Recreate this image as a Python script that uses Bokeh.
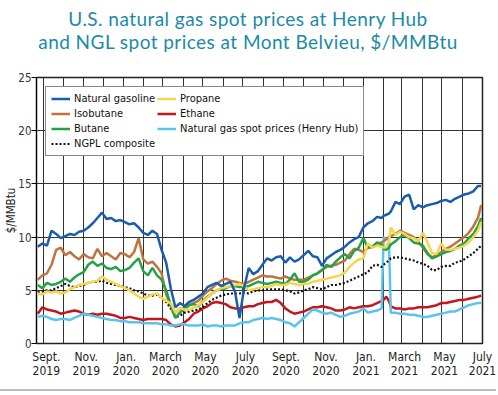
import pandas as pd
from bokeh.plotting import figure
from bokeh.layouts import column
from bokeh.models import (ColumnDataSource, Range1d, FixedTicker, Legend, LegendItem, Div)
from bokeh.embed import file_html
from bokeh.resources import INLINE

# ---------------- data ----------------
weekly = list(pd.date_range("2019-08-23", "2021-06-25", freq="7D"))
extra = [pd.Timestamp("2021-02-01"), pd.Timestamp("2021-02-09"), pd.Timestamp("2021-06-30")]
dates = sorted(weekly + extra)

natural_gasoline = [
    9.1, 9.4, 9.2, 10.6, 10.3, 9.9, 10.1, 10.3, 10.2, 10.5,
    10.6, 10.9, 11.3, 11.8, 12.3, 11.7, 11.8, 11.5, 11.6, 11.4,
    11.2, 11.3, 10.9, 10.4, 10.2, 10.6, 10.3, 8.8, 7.6, 5.2,
    3.4, 3.8, 3.5, 3.9, 4.1, 4.4, 4.7, 5.3, 5.5, 5.7,
    5.4, 5.6, 5.8, 4.9, 2.4, 5.2, 7.1, 6.5, 6.8, 7.4,
    8.0, 7.8, 8.1, 8.2, 7.6, 8.1, 7.7, 7.9, 8.3, 8.7,
    8.2, 8.1, 7.3, 8.0, 8.3, 8.6, 8.8, 9.1, 9.5, 9.8,
    10.0, 10.9, 11.3, 11.5, 11.9, 11.8,
    12.0, 12.1, 12.2,
    12.4, 13.3, 13.1, 13.8, 14.0, 12.6, 13.0, 12.8, 13.0, 13.1,
    13.2, 13.4, 13.5, 13.3, 13.6, 13.8, 14.0, 14.1, 14.3, 14.8,
    14.8]

isobutane = [
    6.0, 6.4, 6.6, 7.4, 8.8, 9.0, 8.3, 8.6, 8.2, 7.9,
    8.4, 8.1, 8.0, 8.9, 8.2, 8.5, 8.2, 7.9, 8.5, 8.4,
    8.1, 8.6, 9.9, 7.9, 7.5, 7.7, 7.2, 6.6, 4.6, 3.5,
    2.9, 3.3, 3.2, 3.6, 3.8, 4.0, 4.5, 4.9, 5.2, 5.6,
    5.9, 6.1, 5.9, 5.8, 5.7, 5.6, 5.8, 6.0, 6.2, 6.4,
    6.3, 6.3, 6.2, 6.1, 6.3, 6.1, 6.0, 6.0, 6.0, 6.2,
    6.4, 6.6, 6.9, 7.2, 7.3, 7.4, 7.6, 7.8, 8.4, 8.9,
    8.8, 8.6, 9.0, 9.1, 9.4, 9.5,
    9.6, 9.8, 10.0,
    10.1, 10.3, 10.6, 10.4, 10.2, 10.0, 9.6, 9.0, 8.4, 8.1,
    8.3, 8.6, 8.9, 9.1, 9.4, 9.7, 10.0, 10.4, 11.0, 11.8,
    13.0]

butane = [
    5.5, 5.2, 5.7, 5.5, 5.6, 5.8, 6.1, 5.8, 6.2, 6.5,
    6.7, 7.4, 7.7, 7.3, 7.5, 7.1, 7.0, 7.2, 6.8, 6.9,
    7.1, 7.6, 8.0, 6.8, 6.4, 7.1, 6.4, 6.0, 5.0, 3.6,
    2.4, 2.9, 3.3, 3.6, 3.7, 3.5, 4.0, 4.4, 4.7, 5.0,
    5.1, 5.2, 5.4, 5.4, 5.3, 5.3, 5.4, 5.6, 5.8, 5.7,
    5.6, 5.7, 5.8, 5.7, 5.6, 6.0, 6.6, 5.8, 5.8, 6.0,
    6.4, 6.6, 6.9, 7.4, 7.2, 7.7, 8.1, 8.4, 8.0, 8.7,
    9.0, 9.9, 9.0, 9.1, 9.5, 9.3,
    8.9, 8.8, 9.0,
    9.3, 9.6, 10.0, 10.2, 9.9, 9.5, 9.4, 9.2, 8.5, 8.0,
    8.2, 8.4, 8.6, 8.7, 8.9, 9.2, 9.4, 9.9, 10.3, 11.0,
    11.8]

propane = [
    4.7, 4.6, 4.9, 4.8, 4.9, 4.7, 4.8, 5.1, 5.3, 5.5,
    5.6, 5.7, 5.8, 5.9, 6.3, 6.0, 5.8, 5.6, 5.4, 5.2,
    5.0, 4.7, 4.4, 4.2, 4.4, 4.6, 4.7, 4.3, 4.0, 3.8,
    2.9, 3.3, 3.2, 3.2, 3.4, 3.6, 3.9, 4.3, 4.7, 5.0,
    5.2, 5.3, 5.4, 5.5, 5.6, 5.4, 5.0, 5.1, 5.2, 5.3,
    5.3, 5.4, 5.6, 5.5, 5.5, 5.7, 5.6, 5.5, 5.6, 5.6,
    5.8, 5.9, 6.0, 6.1, 6.2, 6.3, 6.4, 6.7, 7.2, 7.6,
    7.9, 8.0, 9.4, 9.0, 9.2, 9.1,
    9.0, 9.1, 9.6,
    10.9, 10.2, 10.5, 10.3, 10.0, 9.9, 9.6, 10.4, 9.5, 8.5,
    8.4, 9.4, 8.8, 8.8, 8.9, 9.0, 9.2, 9.5, 10.0, 10.6,
    11.4]

ngpl_composite = [
    4.8, 4.9, 5.0, 5.0, 5.2, 5.4, 5.6, 5.4, 5.3, 5.4,
    5.5, 5.7, 5.8, 5.8, 5.9, 5.7, 5.6, 5.5, 5.4, 5.3,
    5.2, 5.0, 4.9, 4.7, 4.5, 4.5, 4.6, 4.3, 3.9, 3.3,
    2.5, 2.6, 2.9, 3.0, 3.1, 3.2, 3.4, 3.8, 4.1, 4.3,
    4.5, 4.6, 4.7, 4.7, 4.7, 4.8, 4.7, 4.9, 5.0, 5.0,
    5.1, 5.1, 5.1, 5.1, 5.0, 4.9, 4.7, 4.8, 5.0, 5.1,
    5.3, 5.2, 5.1, 5.3, 5.5, 5.5, 5.6, 5.7, 5.9, 6.1,
    6.3, 6.5, 6.7, 7.3, 7.4, 7.2,
    7.4, 7.6, 7.8,
    8.0, 8.1, 8.1, 8.0, 7.9, 7.8, 7.6, 7.5, 7.3, 6.9,
    6.9, 7.2, 7.3, 7.3, 7.6, 7.7, 7.9, 8.2, 8.5, 8.9,
    9.2]

ethane = [
    2.8, 3.4, 3.2, 3.1, 3.0, 2.8, 2.9, 3.0, 3.1, 3.0,
    2.8, 2.7, 2.8, 2.7, 2.8, 2.8, 2.7, 2.6, 2.4, 2.4,
    2.5, 2.4, 2.3, 2.2, 2.3, 2.3, 2.3, 2.3, 2.2, 1.8,
    1.6, 1.7, 2.0, 2.3, 2.8, 3.0, 3.3, 3.5, 3.8, 3.9,
    3.8, 3.7, 3.4, 3.3, 3.3, 3.4, 3.5, 3.5, 3.7, 3.8,
    3.9, 3.9, 4.1, 3.8, 3.3, 3.0, 2.8, 2.9, 3.0, 3.2,
    3.4, 3.4, 3.5, 3.4, 3.3, 3.1, 3.1, 3.2, 3.4, 3.3,
    3.4, 3.5, 3.5, 3.6, 3.8, 4.0,
    4.1, 4.4, 4.0,
    3.5, 3.3, 3.3, 3.2, 3.3, 3.3, 3.4, 3.4, 3.4, 3.5,
    3.6, 3.8, 3.8, 3.9, 4.0, 4.1, 4.1, 4.2, 4.3, 4.4,
    4.5]

henry_hub = [
    2.5, 2.6, 2.5, 2.3, 2.2, 2.3, 2.3, 2.2, 2.4, 2.6,
    2.8, 2.7, 2.6, 2.5, 2.4, 2.3, 2.2, 2.2, 2.1, 2.1,
    2.0, 2.0, 2.0, 1.9, 1.9, 1.9, 1.9, 1.8, 1.8, 1.7,
    1.7, 1.8, 1.8, 1.7, 1.7, 1.7, 1.8, 1.6, 1.7, 1.7,
    1.6, 1.7, 1.7, 1.7, 1.9, 2.0, 2.0, 2.2, 2.3, 2.4,
    2.3, 2.4, 2.3, 2.2, 2.0, 1.9, 1.6, 2.0, 2.4, 2.8,
    3.2, 3.1, 2.9, 2.8, 2.9, 2.7, 2.5, 2.6, 2.8, 2.9,
    3.0, 3.3, 2.9, 3.0, 3.1, 3.3,
    10.0, 9.8, 10.0,
    2.9, 2.9, 2.8, 2.8, 2.7, 2.7, 2.6, 2.5, 2.5, 2.6,
    2.7, 2.8, 2.9, 3.0, 3.0, 3.2, 3.4, 3.6, 3.7, 3.8,
    3.8]

tick_months = ["2019-09", "2019-11", "2020-01", "2020-03", "2020-05", "2020-07",
               "2020-09", "2020-11", "2021-01", "2021-03", "2021-05", "2021-07"]
tick_labels = ["Sept.\n2019", "Nov.\n2019", "Jan.\n2020", "March\n2020", "May\n2020", "July\n2020",
               "Sept.\n2020", "Nov.\n2020", "Jan.\n2021", "March\n2021", "May\n2021", "July\n2021"]
y_ticks = [0, 5, 10, 15, 20, 25]
title_lines = ["U.S. natural gas spot prices at Henry Hub",
               "and NGL spot prices at Mont Belvieu, $/MMBtu"]
y_title = "$/MMBtu"

names = ["Natural gasoline", "Isobutane", "Butane", "NGPL composite",
         "Propane", "Ethane", "Natural gas spot prices (Henry Hub)"]
values = [natural_gasoline, isobutane, butane, ngpl_composite, propane, ethane, henry_hub]
for k, v in zip(names, values):
    if len(v) != len(dates):
        raise SystemExit(f"{k}: {len(v)} vs {len(dates)}")

# ---------------- styles ----------------
FONT = "DejaVu Sans Condensed, Roboto"
TITLE_FONT = "Lato"
TITLE_COLOR = "#1b8aa6"
colors = {
    "Natural gasoline": "#1a5cad",
    "Isobutane": "#c0733f",
    "Butane": "#23a345",
    "NGPL composite": "#111111",
    "Propane": "#f6d54e",
    "Ethane": "#c4161c",
    "Natural gas spot prices (Henry Hub)": "#5cc3ec",
}

x_start = pd.Timestamp("2019-08-21")
x_end = pd.Timestamp("2021-07-02")

title_div = Div(text="<br>".join(title_lines), width=496, height=52, margin=(0, 0, 0, 0),
                styles={"text-align": "center", "font-family": TITLE_FONT,
                        "font-size": "19px", "line-height": "23px", "letter-spacing": "0.45px",
                        "color": TITLE_COLOR, "padding-top": "7px",
                        "box-sizing": "border-box", "width": "496px"})

p = figure(width=496, height=335, output_backend="svg", toolbar_location=None,
           x_axis_type="datetime", x_range=Range1d(x_start, x_end),
           y_range=Range1d(0, 25), min_border_left=36, min_border_right=14,
           min_border_top=25, min_border_bottom=44, margin=(0, 0, 0, 0))

keys = ["ng", "ib", "bu", "nc", "pr", "et", "hh"]
src = ColumnDataSource(dict(date=dates, **{k: v for k, v in zip(keys, values)}))
key_of = dict(zip(names, keys))

draw_order = ["Ethane", "Natural gas spot prices (Henry Hub)", "NGPL composite",
              "Isobutane", "Butane", "Propane", "Natural gasoline"]
renderers = {}
for name in draw_order:
    if name == "NGPL composite":
        r = p.line("date", key_of[name], source=src, line_color=colors[name],
                   line_width=2.2, line_dash="2 2")
    else:
        r = p.line("date", key_of[name], source=src, line_color=colors[name],
                   line_width=2.5)
    renderers[name] = r

legend = Legend(items=[LegendItem(label=n, renderers=[renderers[n]]) for n in names],
                location="top_left", orientation="vertical", nrows=4,
                margin=9, padding=5, spacing=2, label_standoff=4,
                glyph_width=19, glyph_height=13, label_height=13,
                label_text_font=FONT, label_text_font_size="11px",
                label_text_color="#111111", border_line_color="#111111",
                border_line_width=1, background_fill_alpha=1.0)
p.add_layout(legend)

# grid
month_starts = pd.date_range("2019-09-01", "2021-06-01", freq="MS")
p.xgrid.ticker = FixedTicker(ticks=[int(d.value // 10**6) for d in month_starts])
p.xgrid.grid_line_color = "#333333"
p.xgrid.grid_line_width = 1
p.ygrid.grid_line_color = "#333333"
p.ygrid.grid_line_width = 1
p.outline_line_color = "#222222"
p.outline_line_width = 1.5

# x axis
label_ticks = []
for m in tick_months:
    t = pd.Timestamp(m + "-01") + pd.Timedelta(days=4)
    if t > x_end:
        t = x_end
    label_ticks.append(int(t.value // 10**6))
p.xaxis.ticker = FixedTicker(ticks=label_ticks)
p.xaxis.major_label_overrides = {t: l for t, l in zip(label_ticks, tick_labels)}
p.xaxis.major_tick_line_color = None
p.xaxis.minor_tick_line_color = None
p.xaxis.axis_line_color = "#222222"
p.xaxis.major_label_text_font = FONT
p.xaxis.major_label_text_font_size = "12px"
p.xaxis.major_label_text_line_height = 1.0
p.xaxis.major_label_text_color = "#222222"
p.xaxis.major_label_standoff = 0

# y axis
p.yaxis.ticker = FixedTicker(ticks=y_ticks)
p.yaxis.major_tick_out = 5
p.yaxis.major_tick_in = 0
p.yaxis.minor_tick_line_color = None
p.yaxis.major_label_standoff = 0
p.yaxis.major_label_text_font = FONT
p.yaxis.major_label_text_font_size = "11.5px"
p.yaxis.major_label_text_color = "#333333"
p.yaxis.axis_label = y_title
p.yaxis.axis_label_text_font = FONT
p.yaxis.axis_label_text_font_size = "11.5px"
p.yaxis.axis_label_text_font_style = "normal"
p.yaxis.axis_label_text_color = "#222222"
p.yaxis.axis_label_standoff = -3

p.background_fill_color = "white"
p.border_fill_color = "white"

separator = Div(text="", width=496, height=2, margin=(2, 0, 0, 0),
                styles={"background-color": "#bbbbbb", "width": "496px", "height": "2px"})

layout = column(title_div, p, separator, spacing=0)

open("out.html", "w").write(file_html(layout, INLINE))
